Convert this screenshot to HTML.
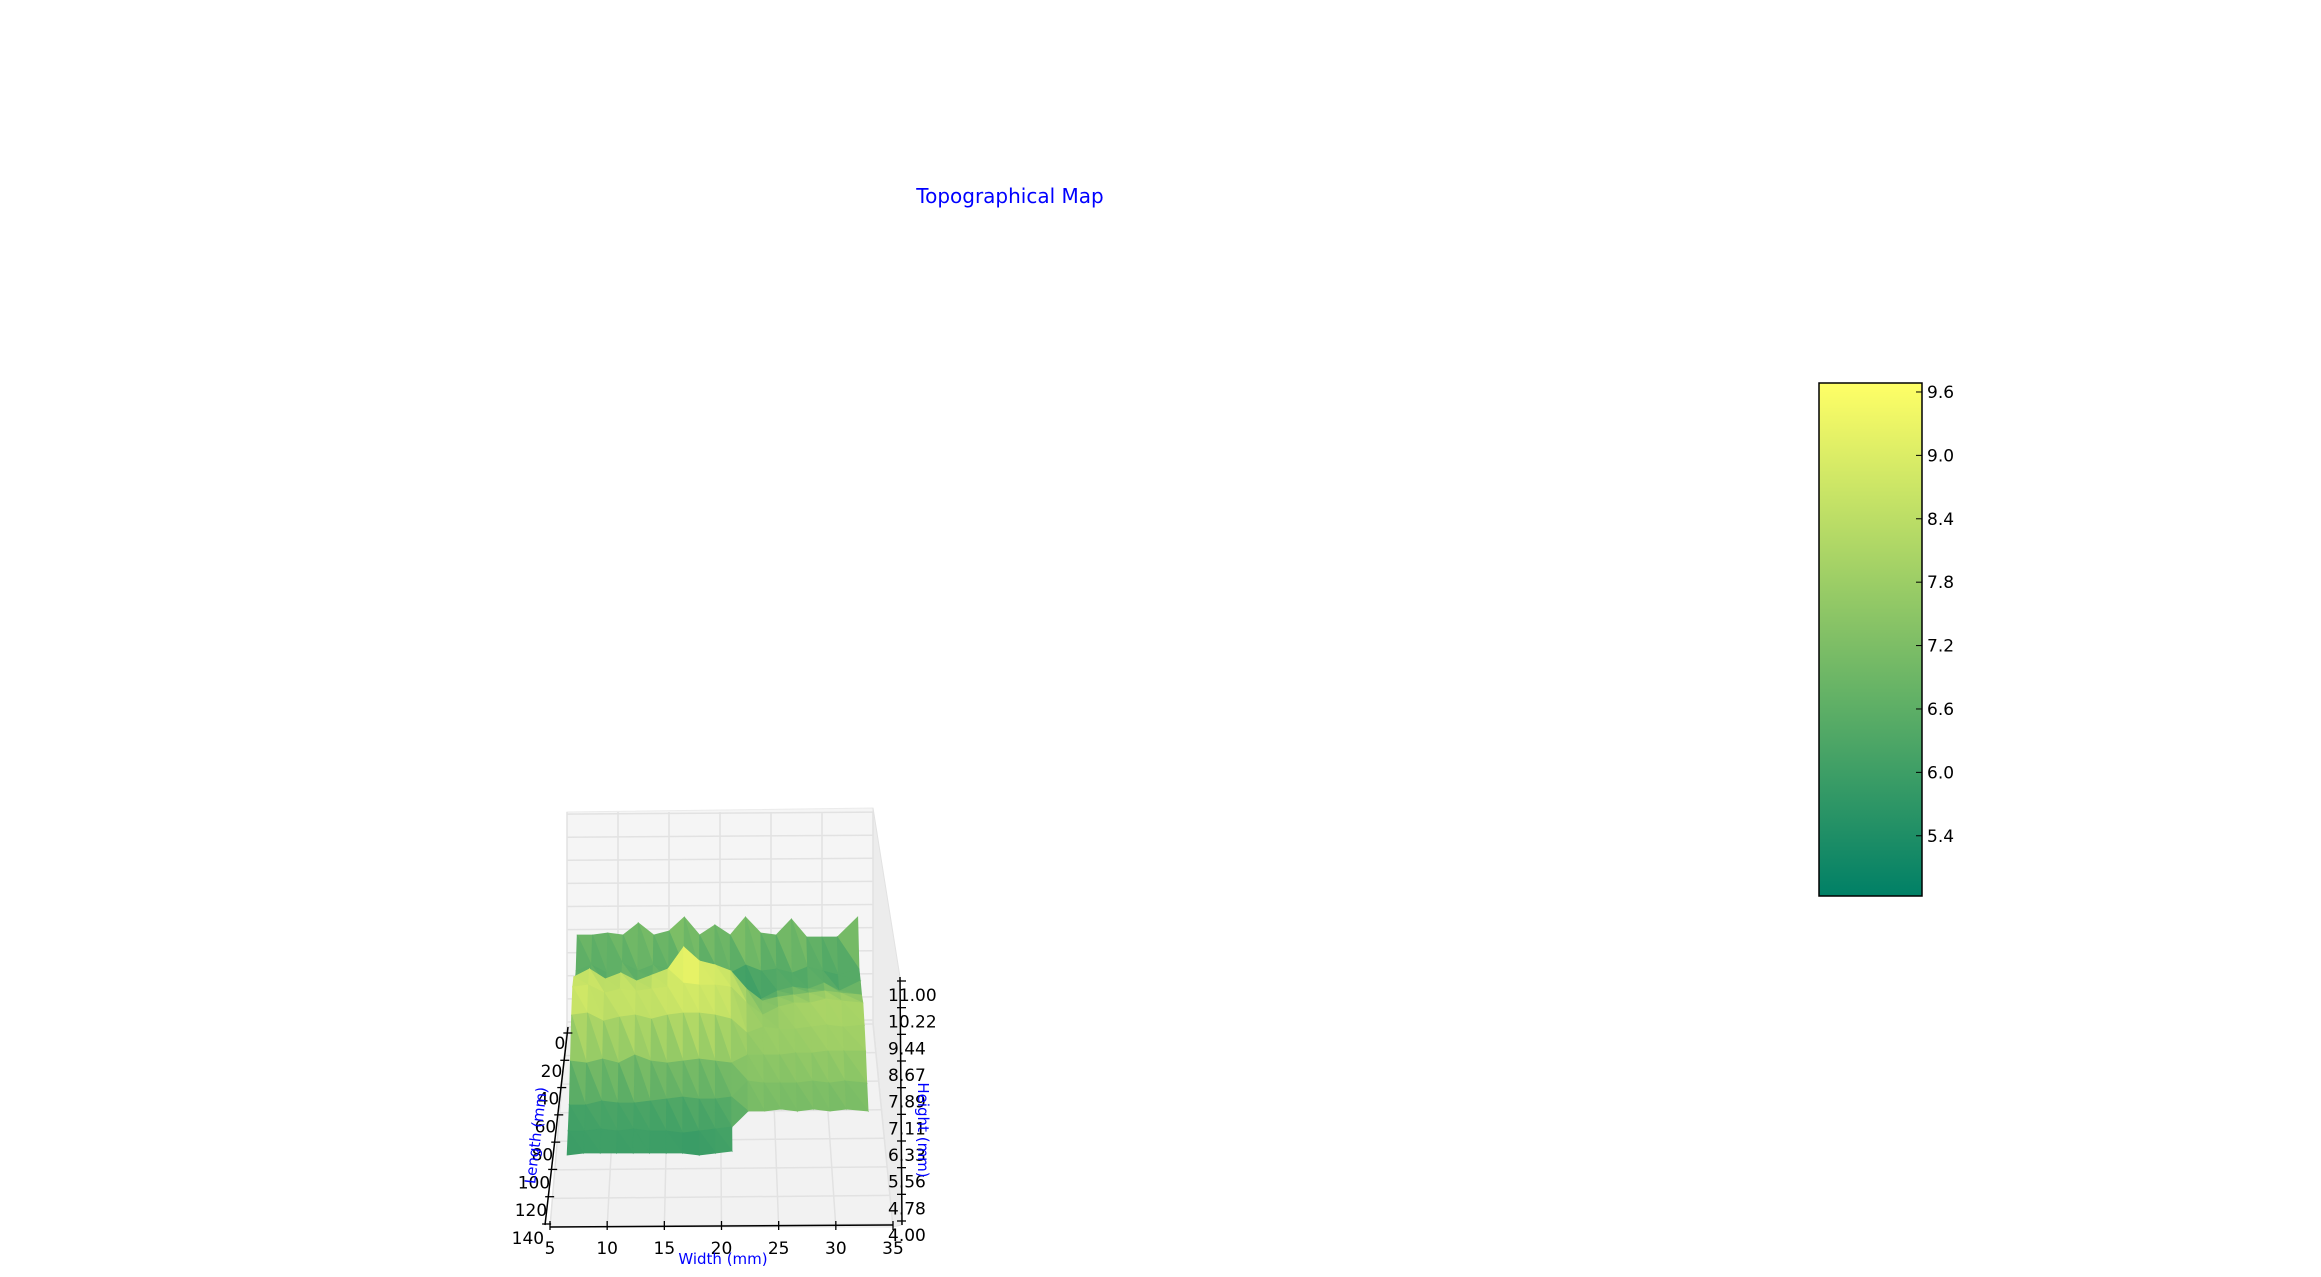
<!DOCTYPE html>
<html><head><meta charset="utf-8">
<style>
html,body{margin:0;padding:0;background:#fff;}
svg{display:block;font-family:"DejaVu Sans","Liberation Sans",sans-serif;}
</style></head>
<body>
<svg id="chart" width="2321" height="1277" viewBox="0 0 2321 1277" xmlns="http://www.w3.org/2000/svg">
  <text x="1010" y="203" text-anchor="middle" font-size="20" fill="#0000ff">Topographical Map</text>
  <g id="axes3d"></g>
  <g id="colorbar"></g>
</svg>
<script>
const widths = [6,7.5,9,10.5,12,13.5,15,16.5,18,19.5,21,22.5,24,25.5,27,28.5,30,31.5,33.5];
const lengths = [0,10,20,30,40,50,60,70,80,90];
const N = NaN;
const heights = [
 [7.0,7.0,7.1,7.0,7.6,7.0,7.2,7.9,7.0,7.5,7.0,7.9,7.1,7.0,7.8,6.9,6.9,6.9,7.9],
 [6.3,6.6,6.2,6.7,6.3,6.6,6.4,6.5,6.3,6.6,6.2,6.6,6.3,6.4,6.2,6.5,6.3,6.1,6.4],
 [6.8,6.9,6.7,7.1,6.8,7.0,6.9,7.6,7.4,6.8,6.2,5.6,6.0,6.4,6.6,6.5,6.8,6.4,6.9],
 [8.2,8.6,8.1,8.4,8.0,8.3,8.6,9.7,9.0,8.8,8.5,7.6,7.0,7.2,7.3,7.4,7.5,7.4,7.3],
 [8.8,8.9,8.5,8.7,8.6,8.7,8.8,9.0,8.9,8.9,8.8,8.0,7.4,7.8,8.0,8.0,8.2,8.1,8.0],
 [8.5,8.6,8.2,8.4,8.5,8.3,8.5,8.6,8.6,8.5,8.3,7.6,7.9,7.8,7.8,7.9,8.0,7.9,8.0],
 [7.3,7.2,7.4,7.2,7.6,7.3,7.2,7.3,7.4,7.3,7.2,7.6,7.6,7.6,7.7,7.7,7.8,7.8,7.8],
 [6.2,6.2,6.4,6.3,6.3,6.4,6.5,6.6,6.5,6.5,6.6,7.4,7.3,7.3,7.3,7.4,7.3,7.4,7.3],
 [6.0,6.0,6.1,6.0,6.1,6.0,6.0,5.9,6.0,6.1,6.2,7.0,7.0,7.1,7.0,7.1,7.0,7.1,7.0],
 [5.9,6.0,6.0,6.0,6.0,6.0,6.0,6.0,5.9,6.0,6.1,N,N,N,N,N,N,N,N]
];
const widthTicks = [5,10,15,20,25,30,35];
const lengthTicks = [0,20,40,60,80,100,120,140];
const heightTicks = ["4.00","4.78","5.56","6.33","7.11","7.89","8.67","9.44","10.22","11.00"];
const cbTicks = [5.4,6.0,6.6,7.2,7.8,8.4,9.0,9.6];

const NS = "http://www.w3.org/2000/svg";
function mk(tag, attrs, parent){const e=document.createElementNS(NS,tag);for(const k in attrs)e.setAttribute(k,attrs[k]);parent.appendChild(e);return e;}

const vmin=4.83, vmax=9.685;
function cmap(v){let t=(v-vmin)/(vmax-vmin);t=Math.max(0,Math.min(1,t));
  const r=Math.round(255*t), g=Math.round(255*(0.5+t/2)), b=Math.round(255*0.4);return `rgb(${r},${g},${b})`;}

function xAt(w,L){const f=L/140;const x0=567+(550-567)*f, x1=873+(893-873)*f;return x0+(w-5)*(x1-x0)/30;}
function floorY(L){return 1027+L*200/140;}
function surfY(L,z){return 995+2.2*L-20*(z-4);}

const ax=document.getElementById('axes3d');
let p=mk('polygon',{points:"567,812 873,808 873,1020 567,1027",fill:"#f5f5f5",stroke:"#ebebeb"},ax);


p=mk('polygon',{points:"873,808 900,977 902,1225 893,1227 873,1020",fill:"#ececec",stroke:"#e2e2e2"},ax);


p=mk('polygon',{points:"567,1027 873,1020 893,1227 550,1227",fill:"#f2f2f2",stroke:"#e6e6e6"},ax);


widthTicks.forEach(w=>{
  const xb=567+(w-5)*(873-567)/30;
  let l=mk('line',{x1:xb,y1:812,x2:xb,y2:1024,stroke:"#e2e2e2","stroke-width":1.5},ax);
  
  
  l=mk('line',{x1:xb,y1:1024,x2:xAt(w,140),y2:1227,stroke:"#e2e2e2","stroke-width":1.5},ax);
  
  
});
lengthTicks.forEach(L=>{
  const y=floorY(L);
  const l=mk('line',{x1:xAt(5,L),y1:y,x2:xAt(35,L),y2:y-3,stroke:"#e2e2e2","stroke-width":1.5},ax);
  
  
});
heightTicks.forEach((t,i)=>{
  const y=1022-i*(1022-812)/9*0.99;
  const l=mk('line',{x1:567,y1:y,x2:873,y2:y-2,stroke:"#e2e2e2","stroke-width":1.5},ax);
  
  
});
const surf=mk('g',{},ax);


for(let i=0;i<lengths.length-1;i++){
  for(let j=0;j<widths.length-1;j++){
    const zs=[heights[i][j],heights[i][j+1],heights[i+1][j+1],heights[i+1][j]];
    if(zs.some(isNaN))continue;
    const Ls=[lengths[i],lengths[i],lengths[i+1],lengths[i+1]];
    const ws=[widths[j],widths[j+1],widths[j+1],widths[j]];
    const P=zs.map((z,k)=>[xAt(ws[k],Ls[k]),surfY(Ls[k],z)]);
    const tris=[[P[0],P[1],P[2],(zs[0]+zs[1]+zs[2])/3],[P[0],P[2],P[3],(zs[0]+zs[2]+zs[3])/3]];
    tris.forEach(tr=>{
      const c=cmap(tr[3]);
      const pts=tr.slice(0,3).map(q=>q[0].toFixed(1)+","+q[1].toFixed(1)).join(" ");
      const q=mk('polygon',{points:pts,fill:c,stroke:c,"stroke-width":0.8},surf);
      
      
    });
  }
}
let a=mk('line',{x1:550,y1:1227,x2:893,y2:1225,stroke:"#000","stroke-width":1.5},ax);


a=mk('line',{x1:568,y1:1027,x2:545,y2:1225,stroke:"#000","stroke-width":1.5},ax);


a=mk('line',{x1:900,y1:977,x2:902,y2:1225,stroke:"#000","stroke-width":1.5},ax);


widthTicks.forEach(w=>{
  const x=550+(w-5)*(893-550)/30;
  const t=mk('line',{x1:x,y1:1221,x2:x,y2:1230,stroke:"#000","stroke-width":1.3},ax);
  
  
  const lb=mk('text',{x:x,y:1254,"text-anchor":"middle","font-size":17,fill:"#000"},ax);
  lb.textContent=w;
  
  
});
lengthTicks.forEach((L,i)=>{
  const f=i/7;
  const yt=1033+f*(1224-1033), xt=568-(568-546)*(yt-1027)/198;
  const t=mk('line',{x1:xt-4,y1:yt,x2:xt+5,y2:yt,stroke:"#000","stroke-width":1.3},ax);
  
  
  const lb=mk('text',{x:xt-2,y:1049+f*(1244-1049),"text-anchor":"end","font-size":17,fill:"#000"},ax);
  lb.textContent=L;
  
  
});
heightTicks.forEach((h,i)=>{
  const y=1235-i*(1235-995)/9;
  const t=mk('line',{x1:897,y1:y-14,x2:906,y2:y-14,stroke:"#000","stroke-width":1.3},ax);
  
  
  const lb=mk('text',{x:888,y:y+6,"text-anchor":"start","font-size":17,fill:"#000"},ax);
  lb.textContent=h;
  
  
});
let t=mk('text',{x:723,y:1264,"text-anchor":"middle","font-size":15,fill:"#0000ff"},ax);
t.textContent="Width (mm)";


t=mk('text',{x:0,y:0,"text-anchor":"middle","font-size":15,fill:"#0000ff",transform:"translate(541,1136) rotate(-83)"},ax);
t.textContent="Length (mm)";


t=mk('text',{x:0,y:0,"text-anchor":"middle","font-size":15,fill:"#0000ff",transform:"translate(918,1130) rotate(90)"},ax);
t.textContent="Height (mm)";



const cb=document.getElementById('colorbar');
const defs=mk('defs',{},cb);
const grad=mk('linearGradient',{id:"cbg",x1:0,y1:1,x2:0,y2:0},defs);
for(let k=0;k<=10;k++){const v=vmin+(vmax-vmin)*k/10;mk('stop',{offset:k/10,"stop-color":cmap(v)},grad);}
const cbTop=383, cbBot=896;
function cbY(v){return cbBot-(v-vmin)/(vmax-vmin)*(cbBot-cbTop);}
let r=mk('rect',{x:1819,y:cbTop,width:103,height:cbBot-cbTop,fill:"url(#cbg)",stroke:"#000","stroke-width":1.5},cb);


cbTicks.forEach(v=>{
  const y=cbY(v);
  const tk=mk('line',{x1:1916,y1:y,x2:1922,y2:y,stroke:"#000","stroke-width":1},cb);
  
  
  const lb=mk('text',{x:1927,y:y+6,"font-size":17,fill:"#000"},cb);
  lb.textContent=v.toFixed(1);
  
  
});
</script>
</body></html>
